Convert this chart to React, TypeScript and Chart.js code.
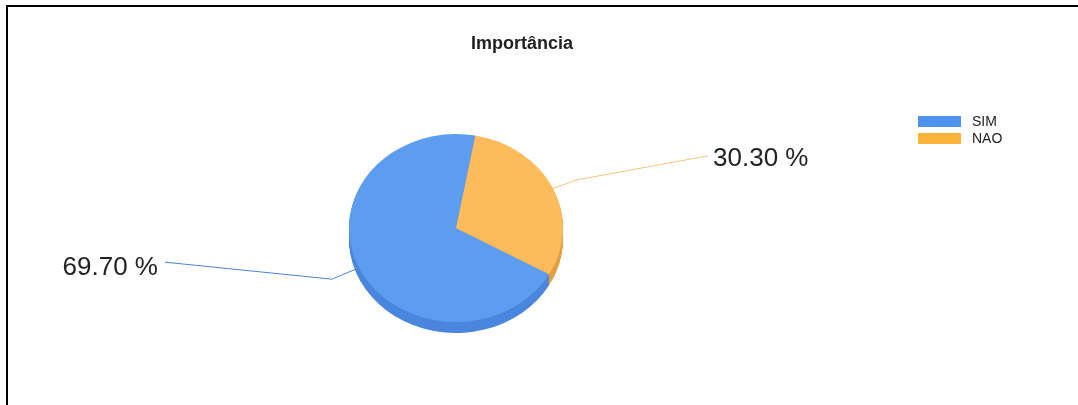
import React, { useEffect, useRef } from "react";
import { Chart, registerables } from "chart.js";

Chart.register(...registerables);

const TITLE = "Importância";
const labels = ["SIM", "NAO"];
const values = [69.7, 30.3];
const valueLabels = ["69.70 %", "30.30 %"];
const faceColors = ["#5c9df0", "#fdbb5c"];
const sideColors = ["#4a86dd", "#e29f40"];
const lineColors = ["#4a82d4", "#f6c47c"];
const legendColors = ["#4f92ee", "#fcb33a"];

const FONT = "'Liberation Sans', Arial, sans-serif";
const K = 0.878; // vertical squash of the pie face
const DEPTH = 11;
const LEADER = {
  right: { elbow: [28, -10], end: [131, -24], text: [5, 3], align: "left" as CanvasTextAlign },
  left: { elbow: [-31, 13], end: [-167, -17], text: [-7, 6], align: "right" as CanvasTextAlign },
};

const pie3d = {
  id: "pie3d",
  beforeDatasetsDraw(chart: any) {
    const ctx: CanvasRenderingContext2D = chart.ctx;
    const arcs = chart.getDatasetMeta(0).data as any[];
    if (!arcs.length) return;
    const cx = arcs[0].x;
    const cy = arcs[0].y;
    arcs.forEach((arc: any, i: number) => {
      const mid = (arc.startAngle + arc.endAngle) / 2;
      const r = arc.outerRadius * 0.96;
      const ax = cx + r * Math.cos(mid);
      const ay = cy + K * r * Math.sin(mid);
      const st = Math.cos(mid) >= 0 ? LEADER.right : LEADER.left;
      const ex = ax + st.elbow[0];
      const ey = ay + st.elbow[1];
      const tx = ex + st.end[0];
      const ty = ey + st.end[1];
      ctx.save();
      ctx.strokeStyle = lineColors[i];
      ctx.lineWidth = 1;
      ctx.beginPath();
      ctx.moveTo(ax, ay);
      ctx.lineTo(ex, ey);
      ctx.lineTo(tx, ty);
      ctx.stroke();
      ctx.fillStyle = "#222";
      ctx.font = `26px ${FONT}`;
      ctx.textAlign = st.align;
      ctx.textBaseline = "middle";
      ctx.fillText(valueLabels[i], tx + st.text[0], ty + st.text[1]);
      ctx.restore();
    });
    ctx.save();
    ctx.translate(cx, cy);
    ctx.scale(1, K);
    ctx.translate(-cx, -cy);
    for (let d = DEPTH; d >= 1; d--) {
      arcs.forEach((arc: any, i: number) => {
        const oy = cy + d / K;
        ctx.beginPath();
        ctx.moveTo(cx, oy);
        ctx.arc(cx, oy, arc.outerRadius, arc.startAngle, arc.endAngle);
        ctx.closePath();
        ctx.fillStyle = sideColors[i];
        ctx.fill();
      });
    }
  },
  afterDatasetsDraw(chart: any) {
    chart.ctx.restore();
  },
  afterDraw(chart: any) {
    const ctx: CanvasRenderingContext2D = chart.ctx;
    ctx.save();
    ctx.fillStyle = "#222";
    ctx.font = `bold 18px ${FONT}`;
    ctx.textAlign = "center";
    ctx.textBaseline = "middle";
    ctx.fillText(TITLE, 522, 44);
    ctx.font = `14px ${FONT}`;
    ctx.textAlign = "left";
    chart.data.labels.forEach((lab: string, i: number) => {
      const y = 121 + i * 17;
      ctx.fillStyle = legendColors[i];
      ctx.fillRect(918, y - 5, 43, 11);
      ctx.fillStyle = "#222";
      ctx.fillText(lab, 972, y + 1);
    });
    ctx.restore();
  },
};

export default function App() {
  const ref = useRef<HTMLCanvasElement>(null);
  useEffect(() => {
    if (!ref.current) return;
    const chart = new Chart(ref.current, {
      type: "pie",
      data: {
        labels,
        datasets: [
          {
            data: values,
            backgroundColor: faceColors,
            borderWidth: 0,
          },
        ],
      },
      options: {
        animation: false,
        responsive: false,
        devicePixelRatio: 1,
        rotation: 119.5,
        layout: { padding: { left: 349, right: 515, top: 121, bottom: 70 } },
        plugins: {
          legend: { display: false },
          title: { display: false },
          tooltip: { enabled: false },
        },
      },
      plugins: [pie3d],
    });
    return () => chart.destroy();
  }, []);
  return (
    <div style={{ position: "fixed", left: 0, top: 0, width: 1078, height: 405, background: "#fff" }}>
      <canvas ref={ref} width={1078} height={405} style={{ position: "absolute", left: 0, top: 0, width: 1078, height: 405 }} />
      <div
        style={{
          position: "absolute",
          left: 6,
          top: 5,
          width: 1080,
          height: 410,
          borderLeft: "2px solid #000",
          borderTop: "2px solid #000",
          pointerEvents: "none",
        }}
      />
    </div>
  );
}
